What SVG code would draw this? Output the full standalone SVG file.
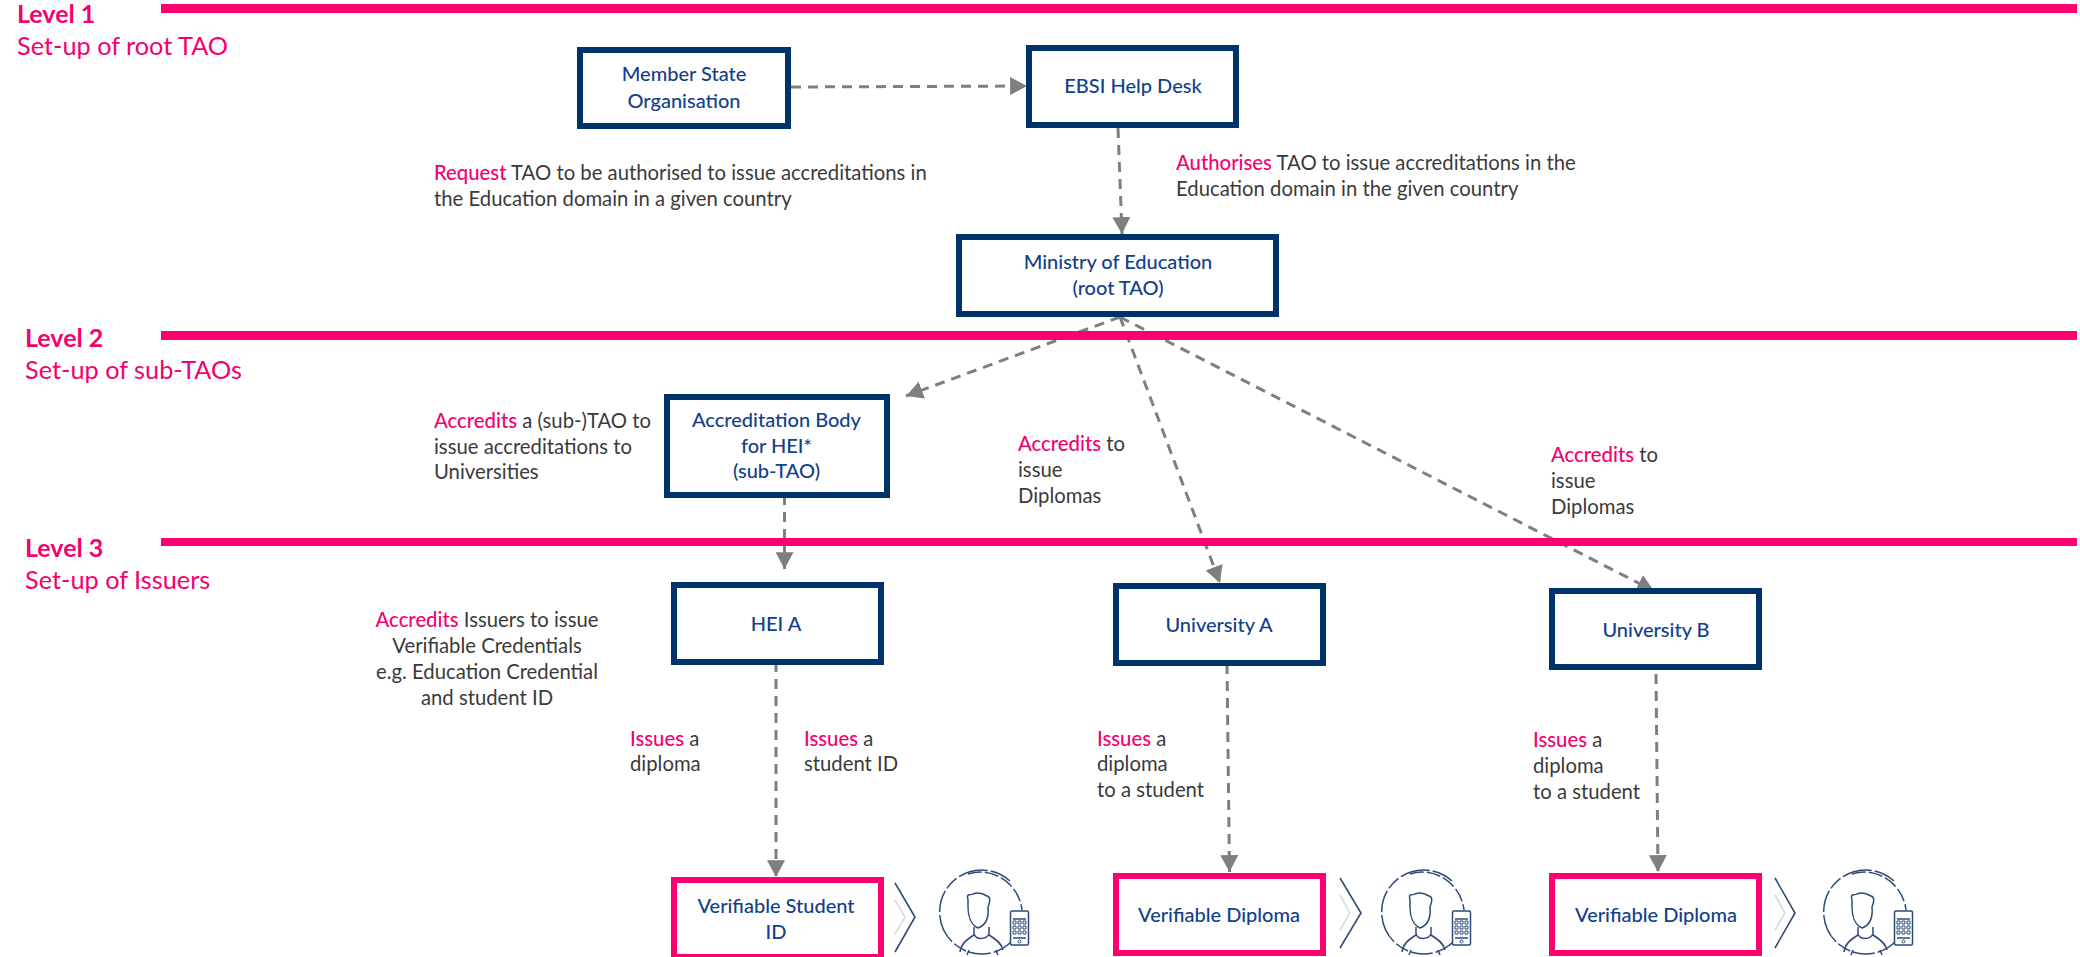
<svg xmlns="http://www.w3.org/2000/svg" width="2080" height="957" viewBox="0 0 2080 957">
<style>
text{font-family:"Lato","Noto Sans",sans-serif;}
.lv{font-size:25px;fill:#f5006f;font-weight:700}
.su{font-size:25.300px;fill:#f5006f}
.t{font-size:20.300px;fill:#3a3a3a}
.p{fill:#f5006f;font-weight:500}
.n{font-size:20px;fill:#12408a;text-anchor:middle;font-weight:500}
.c{text-anchor:middle}
.b{fill:#fff;stroke:#003369;stroke-width:6}
.v{fill:#fff;stroke:#ff0070;stroke-width:6}
.bar{fill:#ff0070}
.cn{fill:none;stroke:#7f7f7f;stroke-width:3;stroke-dasharray:10 7;marker-end:url(#a)}
.ch{fill:none;stroke:#2e4a78;stroke-width:1.6}
.cl{fill:none;stroke:#d5dae6;stroke-width:1.6}
.ic{fill:none;stroke:#2e4a78;stroke-width:1.5}
</style>
<defs>
<marker id="a" markerUnits="userSpaceOnUse" markerWidth="18" markerHeight="18" viewBox="0 0 16 16" refX="15" refY="8" orient="auto"><path d="M0 0L15 8L0 16Z" fill="#7f7f7f"/></marker>
<g id="user">
<path class="ic" stroke-dasharray="22 3 30 3 14 3" d="M1010 881A42 42 0 1 0 1012 941"/>
<path class="ic" stroke-dasharray="14 3" d="M968 874A42 43 0 0 1 1022 910"/>
<path class="ic" d="M968 900C966 892 970 896 973 894C978 892 982 893 987 896C991 897 990 902 988 907C989 917 986 925 978 928C971 925 968 916 968 907Z"/>
<path class="ic" d="M974 927V934C976 940 986 940 989 934V927M960 952C961 944 966 940 974 935M1003 950C1002 944 997 940 989 935"/>
<path class="ic" d="M969 950L967 955M996 950L998 955"/>
<rect x="1010.500" y="911" width="18" height="34" rx="1.500" fill="#fff" stroke="#2e4a78" stroke-width="1.500"/>
<path d="M1013 919h13M1013 938h13" class="ic" stroke-width="1"/>
<path d="M1013 921h3v3h-3zM1018 921h3v3h-3zM1023 921h3v3h-3zM1013 926h3v3h-3zM1018 926h3v3h-3zM1023 926h3v3h-3zM1013 931h3v3h-3zM1018 931h3v3h-3zM1023 931h3v3h-3z" fill="none" stroke="#2e4a78" stroke-width="1"/>
<circle cx="1019.500" cy="941.500" r="1.500" fill="none" stroke="#2e4a78" stroke-width="1"/>
</g>
</defs>
<rect width="2080" height="957" fill="#fff"/>
<g id="connectors">
<path class="cn" d="M791 87L1027 86"/>
<path class="cn" d="M1118 128L1122 234"/>
<path class="cn" d="M1120 317L906 396"/>
<path class="cn" d="M1120 317L1220 583"/>
<path class="cn" d="M1120 317L1654 591"/>
<path class="cn" d="M784.500 495L784.500 569"/>
<path class="cn" d="M776 662L776 877"/>
<path class="cn" d="M1227 664L1229.500 872"/>
<path class="cn" d="M1656 674L1658 872"/>
</g>
<g id="bars">
<rect class="bar" x="161" y="4" width="1916" height="9"/>
<rect class="bar" x="161" y="331" width="1916" height="9"/>
<rect class="bar" x="161" y="538" width="1916" height="8"/>
</g>
<g id="levels">
<text class="lv" x="17" y="23">Level 1</text><text class="su" x="17" y="55">Set-up of root TAO</text>
<text class="lv" x="25" y="347">Level 2</text><text class="su" x="25" y="379">Set-up of sub-TAOs</text>
<text class="lv" x="25" y="557">Level 3</text><text class="su" x="25" y="589">Set-up of Issuers</text>
</g>
<g id="member-state"><rect class="b" x="580" y="50" width="208" height="76"/><text class="n" x="684" y="81">Member State</text><text class="n" x="684" y="108">Organisation</text></g>
<g id="help-desk"><rect class="b" x="1029" y="48" width="207" height="77"/><text class="n" x="1133" y="93">EBSI Help Desk</text></g>
<g id="ministry"><rect class="b" x="959" y="237" width="317" height="77"/><text class="n" x="1118" y="269">Ministry of Education</text><text class="n" x="1118" y="295">(root TAO)</text></g>
<g id="accreditation"><rect class="b" x="667" y="397" width="220" height="98"/><text class="n" x="776.500" y="427">Accreditation Body</text><text class="n" x="776.500" y="453">for HEI*</text><text class="n" x="776.500" y="478">(sub-TAO)</text></g>
<g id="hei-a"><rect class="b" x="674" y="585" width="207" height="77"/><text class="n" x="776" y="631">HEI A</text></g>
<g id="uni-a"><rect class="b" x="1116" y="586" width="207" height="77"/><text class="n" x="1219" y="632">University A</text></g>
<g id="uni-b"><rect class="b" x="1552" y="591" width="207" height="76"/><text class="n" x="1656" y="637">University B</text></g>
<g id="vc-id"><rect class="v" x="674" y="880" width="207" height="77"/><text class="n" x="776" y="913">Verifiable Student</text><text class="n" x="776" y="939">ID</text></g>
<g id="vc-a"><rect class="v" x="1116" y="876" width="207" height="77"/><text class="n" x="1219" y="922">Verifiable Diploma</text></g>
<g id="vc-b"><rect class="v" x="1552" y="876" width="207" height="77"/><text class="n" x="1656" y="922">Verifiable Diploma</text></g>
<g id="holder-1"><path class="cl" d="M895 900L905 917L895 934"/><path class="ch" d="M895 883L915 917L895 952"/><use href="#user"/></g>
<g id="holder-2"><path class="cl" d="M1340 895L1350 913L1340 930"/><path class="ch" d="M1340 878L1361 913L1340 948"/><use href="#user" x="442"/></g>
<g id="holder-3"><path class="cl" d="M1775 895L1785 913L1775 930"/><path class="ch" d="M1775 878L1795 913L1775 948"/><use href="#user" x="884"/></g>
<g id="labels">
<text class="t" x="434" y="180"><tspan class="p">Request</tspan> TAO to be authorised to issue accreditations in</text><text class="t" x="434" y="206">the Education domain in a given country</text>
<text class="t" x="1176" y="170"><tspan class="p">Authorises</tspan> TAO to issue accreditations in the</text><text class="t" x="1176" y="196">Education domain in the given country</text>
<text class="t" x="434" y="428"><tspan class="p">Accredits</tspan> a (sub-)TAO to</text><text class="t" x="434" y="454">issue accreditations to</text><text class="t" x="434" y="479">Universities</text>
<text class="t" x="1018" y="451"><tspan class="p">Accredits</tspan> to</text><text class="t" x="1018" y="477">issue</text><text class="t" x="1018" y="503">Diplomas</text>
<text class="t" x="1551" y="462"><tspan class="p">Accredits</tspan> to</text><text class="t" x="1551" y="488">issue</text><text class="t" x="1551" y="514">Diplomas</text>
<text class="t c" x="487" y="627"><tspan class="p">Accredits</tspan> Issuers to issue</text><text class="t c" x="487" y="653">Verifiable Credentials</text><text class="t c" x="487" y="679">e.g. Education Credential</text><text class="t c" x="487" y="705">and student ID</text>
<text class="t" x="630" y="746"><tspan class="p">Issues</tspan> a</text><text class="t" x="630" y="771">diploma</text>
<text class="t" x="804" y="746"><tspan class="p">Issues</tspan> a</text><text class="t" x="804" y="771">student ID</text>
<text class="t" x="1097" y="746"><tspan class="p">Issues</tspan> a</text><text class="t" x="1097" y="771">diploma</text><text class="t" x="1097" y="797">to a student</text>
<text class="t" x="1533" y="747"><tspan class="p">Issues</tspan> a</text><text class="t" x="1533" y="773">diploma</text><text class="t" x="1533" y="799">to a student</text>
</g>
</svg>
